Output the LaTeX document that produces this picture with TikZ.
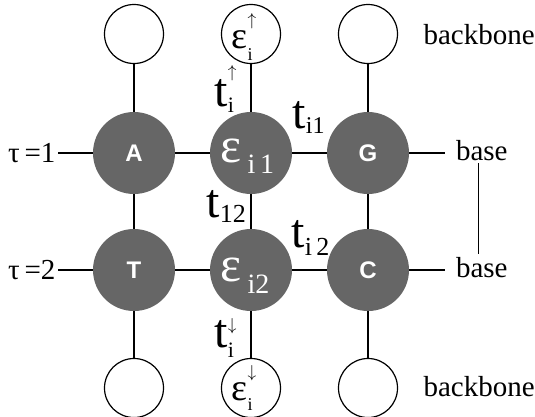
\documentclass[tikz,border=0pt]{standalone}
\usepackage{fontspec}
\setmainfont{Liberation Serif}
\setsansfont{Liberation Sans}
\definecolor{nodegray}{RGB}{102,102,102}
\newcommand\fs[1]{\fontsize{#1}{#1}\selectfont}
\newcommand\upar{{\fs{17}$\uparrow$}}
\newcommand\dnar{{\fs{17}$\downarrow$}}
\begin{document}
\begin{tikzpicture}[x=1pt,y=-1pt,line width=1.2pt,
  gnode/.style={circle,fill=nodegray,minimum size=82pt,inner sep=0pt,outer sep=0pt},
  wnode/.style={circle,draw=black,line width=1.2pt,fill=white,minimum size=59pt,inner sep=0pt},
  letter/.style={text=white,font=\sffamily\bfseries\fs{24}},
  lbl/.style={inner sep=0pt,anchor=base west},
  txt/.style={font=\fs{29}}
]
\useasboundingbox (0,0) rectangle (535,416);
% main grid
\node[gnode,letter] (A) at (134,153) {A};
\node[gnode] (E1) at (251,153) {};
\node[gnode,letter] (G) at (368,153) {G};
\node[gnode,letter] (T) at (134,270) {T};
\node[gnode] (E2) at (251,270) {};
\node[gnode,letter] (C) at (368,270) {C};
% backbone circles
\node[wnode] (U1) at (134,34) {};
\node[wnode] (U2) at (251,34) {};
\node[wnode] (U3) at (368,34) {};
\node[wnode] (D1) at (134,388) {};
\node[wnode] (D2) at (251,388) {};
\node[wnode] (D3) at (368,388) {};
% side labels
\node[txt,anchor=east,inner sep=2pt] (tau1) at (58,153) {τ\,=1};
\node[txt,anchor=east,inner sep=2pt] (tau2) at (58,270) {τ\,=2};
\node[txt,lbl,outer xsep=11pt,outer ysep=3pt] (b1) at (445,160) {base};
\node[txt,lbl,outer xsep=11pt,outer ysep=3pt] (b2) at (445,277) {base};
\node[txt,lbl] (bbt) at (423,44) {backbone};
\node[txt,lbl] (bbb) at (423,396) {backbone};
% connectors
\draw (tau1) -- (A) -- (E1) -- (G) -- (G -| b1.west);
\draw (tau2) -- (T) -- (E2) -- (C) -- (C -| b2.west);
\draw (U1) -- (A) -- (T) -- (D1);
\draw (U2) -- (E1) -- (E2) -- (D2);
\draw (U3) -- (G) -- (C) -- (D3);
\draw ([xshift=-3.5pt]b1.south) -- ([xshift=-3.5pt]b2.north);
% epsilon labels in grey circles
\node[lbl,text=white,font=\fs{50}] (e1l) at (220,162) {ε\hspace{6pt}\raisebox{-11pt}{\fs{28}i\,1}};
\node[lbl,text=white,font=\fs{50}] (e2l) at (220,281) {ε\hspace{6pt}\raisebox{-12pt}{\fs{28}i2}};
% epsilon labels in white circles
\node[lbl,font=\fs{38}] (eul) at (231,48) {ε\rlap{\raisebox{23pt}{\upar}}\raisebox{-12pt}{\fs{18}i}};
\node[lbl,font=\fs{38}] (edl) at (231,400) {ε\rlap{\raisebox{23pt}{\dnar}}\raisebox{-10pt}{\fs{18}i}};
% hopping labels
\node[lbl,font=\fs{48}] (tup) at (214,106) {t\rlap{\raisebox{29pt}{\upar}}\raisebox{-6pt}{\fs{22}i}};
\node[lbl,font=\fs{48}] (tdn) at (214,347) {t\rlap{\raisebox{17pt}{\dnar}}\raisebox{-10pt}{\fs{22}i}};
\node[lbl,font=\fs{48}] (ti1) at (292,128) {t\raisebox{-5pt}{\fs{24}i1}};
\node[lbl,font=\fs{48}] (ti2) at (291,247) {t\raisebox{-8pt}{\fs{26}i\,2}};
\node[lbl,font=\fs{48}] (t12) at (206,217) {t\raisebox{-5pt}{\fs{26}12}};
\end{tikzpicture}
\end{document}
